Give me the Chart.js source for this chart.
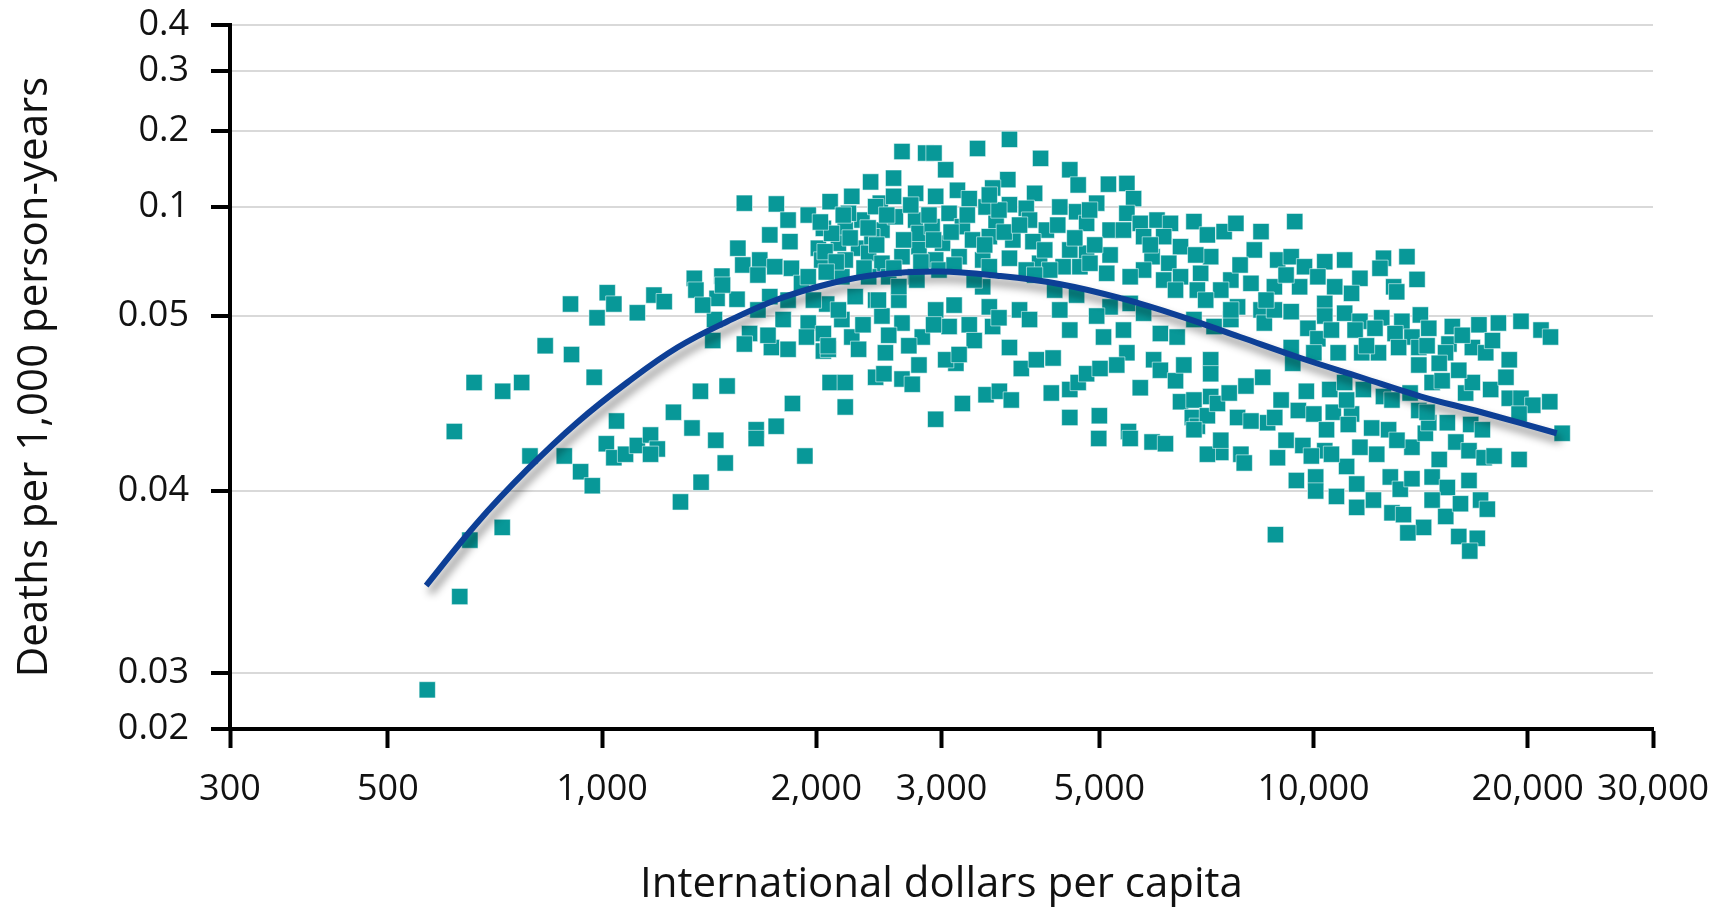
<!DOCTYPE html>
<html>
<head>
<meta charset="utf-8">
<script src="https://cdn.jsdelivr.net/npm/chart.js@4.4.1/dist/chart.umd.min.js"></script>
<style>
html,body{margin:0;padding:0;background:#ffffff;}
#wrap{width:1732px;height:910px;}
</style>
</head>
<body>
<div id="wrap"><canvas id="c" width="1732" height="910"></canvas></div>
<script>
// ---------- tick labels ----------
const xTickValues = [300, 500, 1000, 2000, 3000, 5000, 10000, 20000, 30000];
const xTickLabels = ['300', '500', '1,000', '2,000', '3,000', '5,000', '10,000', '20,000', '30,000'];
const yTickValues = [0.02, 0.03, 0.04, 0.05, 0.1, 0.2, 0.3, 0.4];
const yTickLabels = ['0.02', '0.03', '0.04', '0.05', '0.1', '0.2', '0.3', '0.4'];

// ---------- scatter: [international dollars per capita, deaths per 1,000 person-years] ----------
const countryYears = [
[661,0.0462],[725,0.0457],[771,0.0462],[620,0.0434],[975,0.0465],[792,0.0420],[885,0.0420],[933,0.0411],[969,0.0403],[1048,0.0440],
[1014,0.0427],[1039,0.0419],[1079,0.0421],[1121,0.0426],[1170,0.0432],[1196,0.0424],[1170,0.0421],[1260,0.0445],[1375,0.0457],[1499,0.0460],
[1338,0.0436],[1445,0.0429],[1490,0.0416],[1378,0.0405],[1289,0.0394],[1647,0.0435],[1647,0.0430],[1757,0.0437],[1852,0.0450],[1928,0.0420],
[2092,0.0462],[2197,0.0462],[2197,0.0448],[2424,0.0465],[2490,0.0467],[2640,0.0464],[2729,0.0461],[2789,0.0472],[2047,0.0480],[724,0.0380],
[652,0.0373],[631,0.0342],[568,0.0270],
[903,0.0555],[1017,0.0607],[984,0.0499],[1039,0.0555],[1121,0.0515],[1183,0.0596],[1223,0.0566],[832,0.0483],[906,0.0478],[1348,0.0673],
[1355,0.0619],[1474,0.0683],[1451,0.0581],[1548,0.0577],[1439,0.0498],[1552,0.0811],[1585,0.105],[1758,0.104],[1826,0.094],[1721,0.0872],
[1837,0.0841],[1666,0.0757],[1577,0.0734],[1656,0.0688],[1749,0.0726],[1846,0.0719],[1721,0.0589],[1797,0.0498],[1907,0.0650],[2069,0.0555],
[1612,0.0490],[1585,0.0484],[1730,0.0482],[1826,0.0481],[1949,0.0496],[1938,0.0488],[2047,0.0490],[2173,0.0498],[2244,0.0488],[2294,0.0481],
[2080,0.0481],[2502,0.0479],[2474,0.0500],[2640,0.0496],[2819,0.0488],[2613,0.0573],[2424,0.0573],[2269,0.0589],[2640,0.173],[2569,0.138],
[2385,0.133],[2244,0.114],[2092,0.107],[1949,0.0963],[2047,0.0902],[2197,0.0894],[2319,0.094],[2461,0.105],[2569,0.114],[2759,0.118],
[2014,0.0811],[2149,0.0834],[2294,0.0811],[2474,0.0894],[2584,0.0955],[2759,0.094],[2036,0.0757],[2197,0.0757],[2370,0.0788],[2474,0.0742],
[2640,0.0772],[2789,0.0818],[2789,0.0879],[2850,0.171],[2102,0.0879],[2424,0.1005],[2220,0.0971],[2395,0.0864],[2058,0.0795],[2173,0.068],
[2529,0.068],[2759,0.068],[2370,0.068],[1949,0.068],[2613,0.0635],
[3738,0.189],[3371,0.177],[2928,0.171],[3041,0.149],[4134,0.164],[4544,0.149],[4669,0.129],[5149,0.130],[5466,0.131],[3718,0.136],
[3159,0.122],[3540,0.125],[4055,0.118],[4957,0.105],[5586,0.111],[2944,0.114],[3282,0.111],[3465,0.100],[3738,0.103],[3947,0.0994],
[4399,0.100],[4645,0.0978],[3075,0.0971],[2910,0.0910],[3210,0.0910],[3580,0.0925],[3989,0.0940],[4212,0.0894],[4798,0.0925],[3010,0.0834],
[3317,0.0849],[3502,0.0864],[3779,0.0849],[4033,0.0841],[4544,0.0803],[4798,0.0788],[2944,0.0757],[3176,0.0772],[3428,0.0757],[3738,0.0765],
[4121,0.0742],[4447,0.0726],[4695,0.0726],[5177,0.0780],[5177,0.0894],[5466,0.0971],[5708,0.0925],[5406,0.0894],[5770,0.0864],[6026,0.0940],
[6294,0.0925],[6791,0.0933],[7093,0.0872],[6158,0.0864],[6502,0.0818],[5930,0.0772],[6260,0.0742],[6502,0.0680],[6940,0.0696],[7169,0.0772],
[7488,0.0887],[7778,0.0925],[8437,0.0887],[8256,0.0803],[8167,0.0650],[7652,0.0665],[7407,0.0619],[6866,0.0619],[6158,0.0665],[5770,0.0711],
[5525,0.0680],[5121,0.0696],[4850,0.0742],[4258,0.0711],[3947,0.0711],[3502,0.0726],[2976,0.0711],[3428,0.0634],[4645,0.0596],[5177,0.0542],
[5525,0.0558],[2944,0.0528],[3075,0.0494],[3282,0.0495],[3502,0.0542],[3540,0.0494],[3862,0.0528],[3989,0.0498],[4399,0.0528],[4544,0.0492],
[4957,0.0500],[5068,0.0488],[5406,0.0492],[5770,0.0513],[6092,0.0490],[6432,0.0488],[6791,0.0498],[7248,0.0494],[7652,0.0498],[7821,0.0542],
[8437,0.0528],[8528,0.0496],[3738,0.0482],[5466,0.0479],
[9410,0.0933],[8905,0.0757],[9303,0.0772],[9712,0.0726],[10370,0.0749],[11060,0.0757],[12540,0.0765],[13530,0.0772],[12400,0.0719],[11620,0.0673],
[13980,0.0668],[12960,0.0634],[13090,0.0611],[9560,0.0634],[8810,0.0634],[10140,0.0680],[10710,0.0634],[11310,0.0604],[10370,0.0558],[9303,0.0520],
[8810,0.0528],[10370,0.0500],[11060,0.0513],[11620,0.0497],[12470,0.0499],[13310,0.0497],[14130,0.0505],[14520,0.0493],[15670,0.0494],[17080,0.0495],
[18190,0.0496],[19570,0.0497],[20880,0.0492],[21530,0.0488],[9820,0.0493],[10140,0.0487],[11440,0.0492],[12200,0.0493],[13020,0.0490],[13750,0.0488],
[9303,0.0482],[10010,0.0479],[10830,0.0479],[11690,0.0479],[12340,0.0479],[13170,0.0482],[14060,0.0482],[15500,0.0484],[16720,0.0482],[17460,0.0479],
[18840,0.0475],[15330,0.0479],
[2944,0.0441],[3143,0.0473],[3041,0.0475],[3210,0.0450],[3465,0.0455],[3618,0.0457],[3760,0.0452],[3884,0.0470],[4078,0.0475],[4305,0.0476],
[4280,0.0456],[4544,0.0458],[4669,0.0462],[4544,0.0442],[5000,0.0443],[4990,0.0430],[4798,0.0467],[5011,0.0470],[5290,0.0472],[5708,0.0459],
[5495,0.0434],[5525,0.0430],[5930,0.0428],[6193,0.0427],[5960,0.0475],[6092,0.0469],[6398,0.0463],[6572,0.0472],[7169,0.0475],[7169,0.0467],
[6502,0.0451],[6791,0.0452],[6755,0.0442],[6866,0.0437],[7093,0.0443],[7169,0.0454],[7328,0.0450],[7612,0.0456],[8036,0.0460],[8484,0.0465],
[7821,0.0442],[8167,0.0440],[8620,0.0439],[7407,0.0422],[7093,0.0421],[7905,0.0421],[7991,0.0416],[6791,0.0435],[7407,0.0429],
[9350,0.0473],[9005,0.0452],[8820,0.0442],[9770,0.0457],[10540,0.0458],[11060,0.0462],[11750,0.0458],[12540,0.0454],[9520,0.0446],[10010,0.0444],
[10660,0.0445],[11310,0.0444],[11190,0.0438],[10430,0.0435],[12070,0.0436],[12750,0.0435],[9150,0.0429],[9660,0.0426],[10370,0.0423],[8900,0.0419],
[9930,0.0420],[11620,0.0425],[12270,0.0421],[11130,0.0414],[9460,0.0406],[10070,0.0408],[10070,0.0400],[10770,0.0397],[11500,0.0404],[11500,0.0391],
[12140,0.0395],[12820,0.0408],[13240,0.0401],[13750,0.0407],[12890,0.0388],[13380,0.0387],[13750,0.0425],[14360,0.0433],[14520,0.0439],[14060,0.0446],
[13670,0.0456],[12890,0.0452],[14680,0.0462],[14060,0.0472],[15020,0.0473],[14680,0.0408],[15020,0.0418],[15420,0.0402],[14680,0.0395],[15340,0.0386],
[14280,0.0380],[13570,0.0377],[16090,0.0393],[16540,0.0406],[17170,0.0395],[17550,0.0390],[16000,0.0375],[16990,0.0374],[16580,0.0367],[15850,0.0428],
[16540,0.0423],[17370,0.0419],[17940,0.0420],[19450,0.0418],[16630,0.0438],[15420,0.0439],[14440,0.0445],[16360,0.0456],[16720,0.0462],[17740,0.0458],
[18640,0.0465],[16000,0.0469],[18840,0.0453],[19570,0.0453],[20330,0.0449],[19450,0.0444],[21480,0.0451],[22360,0.0433],[8840,0.0376],
[2027,0.0931],[2134,0.0748],[2232,0.0858],[2335,0.0720],[2432,0.0826],[2066,0.0702],[2183,0.0963],[2366,0.0904],
[2513,0.0963],[2654,0.0849],[2807,0.0748],[2924,0.0849],[2716,0.1026],[2881,0.0963],[2571,0.0720],[2770,0.0665],
[3095,0.0885],[3261,0.0963],[3450,0.0826],[3613,0.0986],[3125,0.0734],[3335,0.0665],[3676,0.0885],[3502,0.1158],
[3862,0.0917],[4190,0.0803],[4370,0.0917],[4618,0.0858],[4926,0.0826],[4055,0.0688],[4327,0.0619],[4845,0.0986],
[1982,0.0573],[2149,0.0528],[2327,0.0495],[2446,0.0573],[2699,0.0483],[2924,0.0495],[3125,0.0550],[3335,0.0486],[3613,0.0499],[2079,0.0483],
[2529,0.0489],[3176,0.0478],
[5897,0.0826],[6398,0.0619],[7054,0.0573],[7885,0.0734],[8576,0.0573],[9150,0.0688],[6830,0.0780],[7652,0.0528],
[10598,0.0492],[11870,0.0483],[14440,0.0483],[16183,0.0489],[17844,0.0486],[11130,0.0452],[15163,0.0463],[13100,0.0429],[17272,0.0435],[10598,0.0421],
[1385,0.0550],[1477,0.0642],[1656,0.0528],[1826,0.0573],[1711,0.0489],[1431,0.0486]
];

// ---------- fitted curve ----------
const fitX = [566, 666, 784, 922, 1085, 1276, 1502, 1767, 2079, 2446, 2972, 3613, 4391, 5338, 6489, 7885, 9586, 11651, 14164, 17217, 21971];
const fitY = [0.0348, 0.0382, 0.0412, 0.0439, 0.0462, 0.0482, 0.0497, 0.0577, 0.0647, 0.0690, 0.0704, 0.0684, 0.0647, 0.0583, 0.0500, 0.0488, 0.0476, 0.0465, 0.0454, 0.0445, 0.0433];

// ---------- uneven printed y axis: share of the axis height at each y tick ----------
const yTickFractions = [0, 0.0795, 0.3381, 0.5866, 0.7415, 0.8494, 0.9347, 1];

function valueToFraction(v) {
  const n = yTickValues.length;
  let i = 0;
  if (v <= yTickValues[0]) i = 0;
  else if (v >= yTickValues[n - 1]) i = n - 2;
  else { while (i < n - 2 && v > yTickValues[i + 1]) i++; }
  const t = (v - yTickValues[i]) / (yTickValues[i + 1] - yTickValues[i]);
  return yTickFractions[i] + t * (yTickFractions[i + 1] - yTickFractions[i]);
}
function fractionToValue(f) {
  const n = yTickFractions.length;
  let i = 0;
  if (f <= 0) i = 0;
  else if (f >= 1) i = n - 2;
  else { while (i < n - 2 && f > yTickFractions[i + 1]) i++; }
  const t = (f - yTickFractions[i]) / (yTickFractions[i + 1] - yTickFractions[i]);
  return yTickValues[i] + t * (yTickValues[i + 1] - yTickValues[i]);
}

class PrintedAxisScale extends Chart.LinearScale {
  static id = 'printedAxis';
  buildTicks() { return yTickValues.map(v => ({ value: v })); }
  getPixelForValue(value) {
    if (value === null || value === undefined || isNaN(value)) return NaN;
    return this.getPixelForDecimal(valueToFraction(value));
  }
  getValueForPixel(pixel) { return fractionToValue(this.getDecimalForPixel(pixel)); }
}
Chart.register(PrintedAxisScale);

const curveShadow = {
  id: 'curveShadow',
  beforeDatasetDraw(chart, args) {
    if (args.index !== 0) return;
    const ctx = chart.ctx;
    ctx.save();
    ctx.shadowColor = 'rgba(0,0,0,0.45)';
    ctx.shadowBlur = 9;
    ctx.shadowOffsetX = 4;
    ctx.shadowOffsetY = 7;
  },
  afterDatasetDraw(chart, args) {
    if (args.index === 0) chart.ctx.restore();
  }
};

const FONT = "'Open Sans', 'DejaVu Sans', sans-serif";

new Chart(document.getElementById('c').getContext('2d'), {
  type: 'scatter',
  data: {
    datasets: [
      {
        label: 'Fit',
        data: fitX.map((x, i) => ({ x: x, y: fitY[i] })),
        showLine: true,
        borderColor: '#0d3f96',
        borderWidth: 6,
        pointRadius: 0,
        tension: 0.4,
        fill: false,
        order: 0
      },
      {
        label: 'Country-years',
        data: countryYears.map(p => ({ x: p[0], y: p[1] })),
        pointStyle: 'rect',
        pointRadius: 11.5,
        backgroundColor: '#089898',
        borderColor: 'rgba(255,255,255,0.55)',
        borderWidth: 1,
        order: 1
      }
    ]
  },
  options: {
    responsive: false,
    animation: false,
    devicePixelRatio: 1,
    layout: { padding: { top: 25, right: 79, bottom: 0, left: 0 } },
    plugins: { legend: { display: false }, tooltip: { enabled: false } },
    scales: {
      x: {
        type: 'logarithmic',
        position: 'bottom',
        min: 300,
        max: 30000,
        afterBuildTicks: axis => { axis.ticks = xTickValues.map(v => ({ value: v })); },
        afterFit: axis => { axis.height = 181; },
        grid: { drawOnChartArea: false, drawTicks: true, tickLength: 19, tickWidth: 4, tickColor: '#000000' },
        border: { display: true, color: '#000000', width: 4 },
        ticks: {
          autoSkip: false, maxRotation: 0, minRotation: 0, padding: 20, color: '#111111',
          font: { family: FONT, size: 36 },
          callback: (v, i) => xTickLabels[i]
        },
        title: {
          display: true, text: 'International dollars per capita', color: '#111111',
          font: { family: FONT, size: 42 }, padding: { top: 0, bottom: 0 }
        }
      },
      y: {
        type: 'printedAxis',
        position: 'left',
        min: 0.02,
        max: 0.4,
        afterFit: axis => { axis.width = 230; axis.paddingTop = 0; axis.paddingBottom = 0; },
        grid: { color: '#d9d9d9', lineWidth: 2, drawTicks: true, tickLength: 19, tickWidth: 4, tickColor: '#000000' },
        border: { display: true, color: '#000000', width: 4 },
        ticks: {
          autoSkip: false, padding: 22, color: '#111111',
          font: { family: FONT, size: 36 },
          callback: (v, i) => yTickLabels[i]
        },
        title: {
          display: true, text: 'Deaths per 1,000 person-years', color: '#111111',
          font: { family: FONT, size: 42 }, padding: { top: 10, bottom: 0 }
        }
      }
    }
  },
  plugins: [curveShadow]
});
</script>
</body>
</html>
